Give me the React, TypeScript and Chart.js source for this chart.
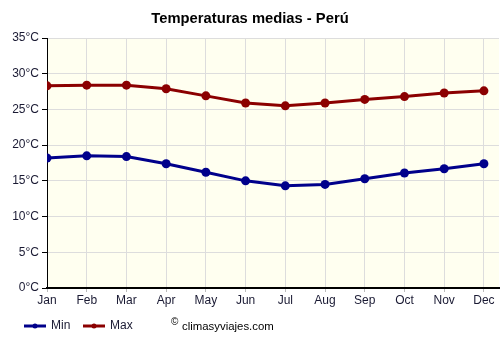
import React, { useEffect, useRef } from "react";
import { Chart, registerables } from "chart.js";

Chart.register(...registerables);

const months = ["Jan", "Feb", "Mar", "Apr", "May", "Jun", "Jul", "Aug", "Sep", "Oct", "Nov", "Dec"];
const minTemps = [18.2, 18.5, 18.4, 17.4, 16.2, 15.0, 14.3, 14.5, 15.3, 16.1, 16.7, 17.4];
const maxTemps = [28.3, 28.4, 28.4, 27.9, 26.9, 25.9, 25.5, 25.9, 26.4, 26.8, 27.3, 27.6];
const yTicks = [0, 5, 10, 15, 20, 25, 30, 35];

const MIN_COLOR = "#00008b";
const MAX_COLOR = "#8b0000";
const FONT = "Arial, 'Liberation Sans', sans-serif";

const decorPlugin = {
  id: "decor",
  beforeDraw(chart: any) {
    const { ctx, chartArea } = chart;
    ctx.save();
    ctx.fillStyle = "#fffff0";
    ctx.fillRect(chartArea.left, chartArea.top, chartArea.right - chartArea.left, chartArea.bottom - chartArea.top);
    ctx.restore();
  },
  afterDraw(chart: any) {
    const { ctx } = chart;
    ctx.save();
    ctx.fillStyle = "#000";
    ctx.font = `bold 14.75px ${FONT}`;
    ctx.textAlign = "center";
    ctx.textBaseline = "middle";
    ctx.fillText("Temperaturas medias - Perú", 250, 19);

    const items = [
      { label: "Min", color: MIN_COLOR, x: 24 },
      { label: "Max", color: MAX_COLOR, x: 83 },
    ];
    const ly = 326;
    items.forEach((it) => {
      ctx.strokeStyle = it.color;
      ctx.lineWidth = 3;
      ctx.beginPath();
      ctx.moveTo(it.x, ly);
      ctx.lineTo(it.x + 22, ly);
      ctx.stroke();
      ctx.fillStyle = it.color;
      ctx.beginPath();
      ctx.arc(it.x + 11, ly, 2.5, 0, Math.PI * 2);
      ctx.fill();
      ctx.fillStyle = "#1a1a33";
      ctx.font = `12px ${FONT}`;
      ctx.textAlign = "left";
      ctx.textBaseline = "middle";
      ctx.fillText(it.label, it.x + 27, ly);
    });
    ctx.fillStyle = "#000";
    ctx.font = `10px ${FONT}`;
    ctx.textAlign = "left";
    ctx.textBaseline = "middle";
    ctx.fillText("©", 171, 322);
    ctx.font = `11.4px ${FONT}`;
    ctx.fillText("climasyviajes.com", 182, 327);
    ctx.restore();
  },
};

export default function App() {
  const ref = useRef<HTMLCanvasElement | null>(null);
  useEffect(() => {
    document.body.style.margin = "0";
    const canvas = ref.current!;
    const chart = new Chart(canvas, {
      type: "line",
      data: {
        datasets: [
          {
            label: "Min",
            data: minTemps.map((v, i) => ({ x: i, y: v })),
            borderColor: MIN_COLOR,
            backgroundColor: MIN_COLOR,
            borderWidth: 3,
            pointRadius: 4.5,
            pointBorderWidth: 0,
            pointHoverRadius: 4.5,
            tension: 0,
          },
          {
            label: "Max",
            data: maxTemps.map((v, i) => ({ x: i, y: v })),
            borderColor: MAX_COLOR,
            backgroundColor: MAX_COLOR,
            borderWidth: 3,
            pointRadius: 4.5,
            pointBorderWidth: 0,
            pointHoverRadius: 4.5,
            tension: 0,
          },
        ],
      },
      options: {
        animation: false,
        responsive: false,
        maintainAspectRatio: false,
        layout: { autoPadding: false, padding: { left: 0, right: 1, top: 38, bottom: 38 } },
        plugins: {
          legend: { display: false },
          title: { display: false },
          tooltip: { enabled: false },
        },
        scales: {
          x: {
            type: "linear",
            min: 0,
            max: 11.38,
            afterFit: (s: any) => {
              s.height = 24;
              s.paddingLeft = 0;
              s.paddingRight = 0;
            },
            afterBuildTicks: (s: any) => {
              s.ticks = months.map((_, i) => ({ value: i }));
            },
            ticks: {
              stepSize: 1,
              includeBounds: false,
              autoSkip: false,
              maxRotation: 0,
              padding: 1,
              color: "#1a1a33",
              font: { size: 12, family: FONT },
              callback: (v: any) => months[Math.round(Number(v))] ?? "",
            },
            grid: { color: "#dddddd", tickColor: "#bbbbbb", tickLength: 4, drawTicks: true },
            border: { color: "#000", width: 2 },
          },
          y: {
            min: 0,
            max: 35,
            afterFit: (s: any) => {
              s.width = 47;
            },
            afterBuildTicks: (s: any) => {
              s.ticks = yTicks.map((v) => ({ value: v }));
            },
            ticks: {
              stepSize: 5,
              padding: 3,
              color: "#1a1a33",
              font: { size: 12, family: FONT },
              callback: (v: any) => `${v}°C`,
            },
            grid: { color: "#dddddd", tickColor: "#000", tickLength: 5 },
            border: { color: "#000", width: 1 },
          },
        },
      },
      plugins: [decorPlugin],
    });
    return () => chart.destroy();
  }, []);
  return (
    <div style={{ position: "absolute", left: 0, top: 0, width: 500, height: 350 }}>
      <canvas ref={ref} width={500} height={350} style={{ width: 500, height: 350 }} />
    </div>
  );
}
